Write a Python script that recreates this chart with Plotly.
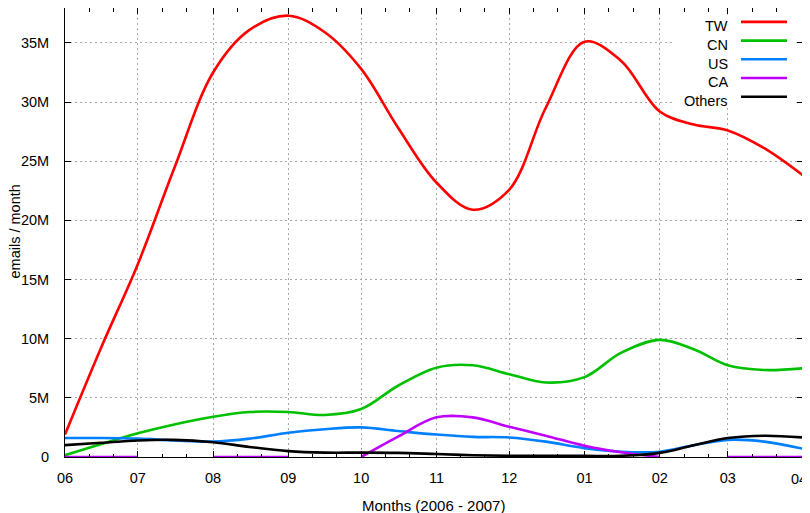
import plotly.graph_objects as go

# ---- data (millions of emails per month) ----
dates = ["2006-06-01", "2006-06-16", "2006-07-01", "2006-07-16", "2006-08-01",
         "2006-08-16", "2006-09-01", "2006-09-16", "2006-10-01", "2006-10-16",
         "2006-11-01", "2006-11-16", "2006-12-01", "2006-12-16", "2007-01-01",
         "2007-01-16", "2007-02-01", "2007-02-15", "2007-03-01", "2007-03-16",
         "2007-04-01"]

tw = [1.9, 9.3, 16.3, 24.4, 32.5, 36.1, 37.3, 35.9, 32.8, 27.9,
      23.2, 20.9, 22.6, 29.5, 35.1, 33.5, 29.2, 28.1, 27.6, 26.1, 23.8]
cn = [0.15, 1.1, 2.0, 2.75, 3.4, 3.8, 3.8, 3.55, 4.05, 6.0,
      7.55, 7.75, 7.0, 6.3, 6.75, 8.8, 9.9, 9.1, 7.75, 7.35, 7.5]
us = [1.6, 1.6, 1.55, 1.4, 1.3, 1.55, 2.05, 2.35, 2.5, 2.2,
      1.9, 1.7, 1.65, 1.3, 0.75, 0.45, 0.45, 1.0, 1.45, 1.3, 0.7]
ca = [0, 0, 0, None, 0, 0, 0, None, 0, 1.7,
      3.35, 3.35, 2.56, 1.8, 0.95, 0.4, 0, None, 0, 0, 0]
others = [1.0, 1.2, 1.4, 1.45, 1.25, 0.85, 0.5, 0.37, 0.37, 0.35,
          0.25, 0.15, 0.1, 0.1, 0.1, 0.1, 0.35, 1.0, 1.6, 1.8, 1.65]

series_names = ["TW", "CN", "US", "CA", "Others"]
series_values = [tw, cn, us, ca, others]
series_colors = ["#ff0000", "#00c000", "#0080ff", "#c000ff", "#000000"]

y_ticks_m = [0, 5, 10, 15, 20, 25, 30, 35]
x_ticks = ["2006-06-01", "2006-07-01", "2006-08-01", "2006-09-01", "2006-10-01",
           "2006-11-01", "2006-12-01", "2007-01-01", "2007-02-01", "2007-03-01",
           "2007-04-01"]
x_tick_labels = ["06", "07", "08", "09", "10", "11", "12", "01", "02", "03", "04"]

FONT = "Liberation Sans, Arial, sans-serif"
FS = 14.5

fig = go.Figure()
for name, vals, col in zip(series_names, series_values, series_colors):
    y = [v * 1e6 if v is not None else None for v in vals]
    fig.add_trace(go.Scatter(
        x=dates, y=y, name=name, mode="lines",
        line=dict(color=col, width=2.6, shape="spline", smoothing=1.0),
        connectgaps=False, showlegend=False, cliponaxis=True,
    ))

# minor ticks at roughly 10-day subdivisions of each month
minor_vals = []
for yr, mo in [(2006, m) for m in range(6, 13)] + [(2007, m) for m in range(1, 4)]:
    for d in (11, 21):
        minor_vals.append(f"{yr}-{mo:02d}-{d:02d}")

# ---- page geometry (the page body has an 8px margin) ----
BODY = 8
FIG_W, FIG_H = 810 - BODY, 513 - BODY
plot_l, plot_r, plot_t, plot_b = 65, 803, 8, 457     # page pixels
pw, ph = plot_r - plot_l, plot_b - plot_t

def px(xp):
    return (xp - plot_l) / pw

def py(yp):
    return (plot_b - yp) / ph

# last x tick label sits at the very edge of the page: draw it flush right
tick_text_axis = x_tick_labels[:-1] + [""]
annotations = [
    dict(xref="paper", yref="paper", x=px(808.5), y=py(479),
         text=x_tick_labels[-1], showarrow=False, xanchor="right",
         yanchor="middle", font=dict(family=FONT, size=FS, color="black")),
    dict(xref="paper", yref="paper", x=px(14.5), y=py(232),
         text="emails / month", textangle=-90, showarrow=False,
         xanchor="center", yanchor="middle",
         font=dict(family=FONT, size=FS, color="black")),
    dict(xref="paper", yref="paper", x=px(433), y=py(494.5),
         text="Months (2006 - 2007)", showarrow=False,
         xanchor="center", yanchor="top",
         font=dict(family=FONT, size=15, color="black")),
]

# ---- gnuplot-style key (opaque box, text right-aligned, sample line right) ----
shapes = [dict(type="rect", xref="paper", yref="paper",
               x0=px(674), x1=px(796.5), y0=py(108), y1=py(14.5),
               fillcolor="white", line=dict(width=0), layer="above")]
for i, (name, col) in enumerate(zip(series_names, series_colors)):
    ly = 21.9 + i * 18.7
    shapes.append(dict(type="line", xref="paper", yref="paper",
                       x0=px(741), x1=px(787), y0=py(ly), y1=py(ly),
                       line=dict(color=col, width=2.6), layer="above"))
    annotations.append(dict(xref="paper", yref="paper", x=px(729.5), y=py(ly + 4.4),
                            text=name, showarrow=False, xanchor="right",
                            yanchor="middle",
                            font=dict(family=FONT, size=FS, color="black")))

fig.update_layout(
    width=FIG_W, height=FIG_H,
    margin=dict(l=plot_l - BODY, r=810 - plot_r, t=plot_t - BODY,
                b=FIG_H + BODY - plot_b),
    paper_bgcolor="white", plot_bgcolor="white",
    font=dict(family=FONT, size=FS, color="black"),
    shapes=shapes, annotations=annotations,
    xaxis=dict(
        type="date", range=["2006-06-01", "2007-04-01"],
        tickmode="array", tickvals=x_ticks, ticktext=tick_text_axis,
        ticks="inside", ticklen=6, tickcolor="black", tickwidth=1,
        showline=True, linecolor="black", linewidth=1, mirror="ticks",
        showgrid=True, gridcolor="#a8a8a8", gridwidth=1, griddash="2px,3px",
        zeroline=False, ticklabelstandoff=8, ticklabeloverflow="allow",
        minor=dict(tickmode="array", tickvals=minor_vals, ticks="inside",
                   ticklen=3.5, tickcolor="black", showgrid=False),
        automargin=False, fixedrange=True,
    ),
    yaxis=dict(
        range=[0, 37.95e6], tickmode="array",
        tickvals=[v * 1e6 for v in y_ticks_m], tickformat="~s",
        ticks="inside", ticklen=6, tickcolor="black", tickwidth=1,
        showline=True, linecolor="black", linewidth=1, mirror="ticks",
        showgrid=True, gridcolor="#a8a8a8", gridwidth=1, griddash="2px,3px",
        zeroline=False, ticklabelstandoff=12, ticklabeloverflow="allow",
        automargin=False, fixedrange=True,
    ),
)

fig.write_html("out.html")
